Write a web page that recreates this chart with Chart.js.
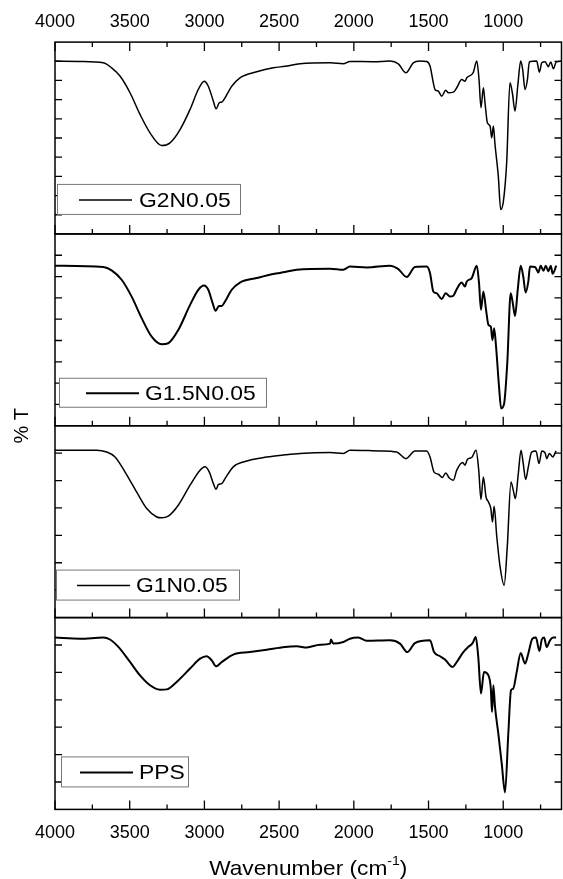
<!DOCTYPE html>
<html>
<head>
<meta charset="utf-8">
<title>FTIR spectra</title>
<script src="https://cdn.jsdelivr.net/npm/chart.js@4.4.1/dist/chart.umd.min.js"></script>
<style>
    html, body { margin: 0; padding: 0; background: #fff; }
    #wrap { width: 563px; height: 879px; }
</style>
</head>
<body>
<div id="wrap"><canvas id="ftirChart" width="563" height="879"></canvas></div>
<script>
// ticks shown on the top and bottom wavenumber axes
const xTickLabels = [4000, 3500, 3000, 2500, 2000, 1500, 1000];

const sampleNames = ['G2N0.05', 'G1.5N0.05', 'G1N0.05', 'PPS'];

// G2N0.05
const wnG2 = [4000, 3833, 3677, 3621, 3565, 3498, 3431, 3364, 3286, 3230, 3163, 3096, 3041, 3001, 2974, 2940, 2922, 2900, 2884, 2869, 2817, 2762, 2650, 2539, 2460, 2360, 2159, 2070, 2026, 1870, 1758, 1702, 1651, 1602, 1557, 1512, 1490, 1468, 1457, 1434, 1412, 1385, 1367, 1334, 1311, 1278, 1256, 1244, 1211, 1200, 1177, 1162, 1149, 1133, 1122, 1106, 1088, 1077, 1066, 1055, 1033, 1017, 999, 977, 955, 939, 921, 903, 883, 870, 854, 838, 825, 776, 758, 742, 720, 698, 682, 664, 646, 610];
const tG2 = [90.1, 89.9, 89.2, 86.6, 82.3, 73.6, 62.3, 52.7, 46.1, 47.5, 54.4, 64.9, 75.3, 79.6, 77.0, 69.2, 65.2, 68.4, 68.7, 70.1, 77.0, 81.4, 84.5, 86.6, 87.4, 88.7, 89.2, 88.7, 89.9, 89.8, 90.1, 88.7, 84.0, 89.2, 90.1, 89.9, 87.5, 78.8, 75.3, 74.4, 71.8, 74.9, 73.6, 73.9, 76.2, 80.5, 79.6, 81.4, 83.1, 84.3, 90.1, 80.5, 65.8, 76.2, 68.4, 57.9, 56.2, 50.1, 56.2, 46.6, 30.1, 12.7, 17.0, 37.1, 78.8, 73.6, 64.0, 77.0, 90.1, 85.8, 75.3, 80.5, 89.8, 90.1, 84.3, 89.2, 89.8, 87.2, 89.6, 86.1, 89.6, 90.1];

// G1.5N0.05
const wnG15 = [4000, 3677, 3621, 3554, 3487, 3420, 3353, 3286, 3242, 3175, 3096, 3041, 3003, 2974, 2945, 2925, 2903, 2884, 2862, 2817, 2762, 2650, 2539, 2460, 2382, 2159, 2070, 2026, 1914, 1758, 1702, 1646, 1591, 1512, 1490, 1468, 1446, 1412, 1385, 1356, 1334, 1311, 1278, 1256, 1244, 1211, 1177, 1162, 1149, 1133, 1115, 1099, 1083, 1072, 1061, 1048, 1028, 1014, 994, 973, 950, 936, 921, 903, 883, 866, 850, 832, 821, 787, 765, 749, 731, 715, 698, 682, 669, 645];
const tG15 = [75.1, 74.5, 72.9, 68.5, 60.6, 50.5, 41.8, 38.2, 38.7, 44.9, 56.7, 63.8, 65.8, 63.8, 57.5, 53.9, 56.2, 56.2, 58.3, 63.8, 67.2, 69.3, 71.2, 72.1, 73.2, 73.7, 73.2, 74.7, 74.3, 75.1, 73.5, 69.8, 74.5, 74.7, 71.6, 63.0, 62.2, 59.5, 62.2, 60.6, 61.0, 64.1, 67.2, 65.3, 67.7, 69.3, 75.1, 66.9, 54.4, 63.0, 54.4, 47.3, 46.5, 40.2, 45.7, 37.1, 18.2, 8.1, 10.4, 29.3, 62.2, 57.5, 51.5, 63.8, 75.1, 70.0, 62.5, 67.7, 74.7, 74.5, 71.9, 75.1, 72.7, 75.1, 72.4, 75.1, 71.3, 75.1];

// G1N0.05
const wnG1 = [4000, 3721, 3654, 3598, 3531, 3453, 3386, 3319, 3286, 3242, 3175, 3096, 3029, 2996, 2967, 2940, 2922, 2907, 2884, 2862, 2807, 2740, 2583, 2460, 2360, 2159, 2070, 2026, 1825, 1713, 1651, 1591, 1512, 1490, 1463, 1434, 1408, 1385, 1361, 1334, 1311, 1271, 1256, 1240, 1211, 1182, 1164, 1149, 1133, 1115, 1099, 1083, 1072, 1061, 1043, 1021, 994, 973, 948, 933, 919, 899, 881, 866, 850, 832, 810, 781, 760, 742, 720, 709, 691, 669, 646];
const tG1 = [61.1, 61.1, 60.4, 58.6, 53.1, 45.8, 39.8, 36.7, 36.4, 37.0, 41.0, 48.3, 53.8, 55.0, 53.1, 48.9, 46.8, 48.5, 48.9, 50.7, 55.0, 56.8, 58.6, 59.4, 59.9, 60.2, 59.9, 61.1, 60.8, 60.4, 58.0, 60.8, 60.8, 58.6, 53.1, 52.3, 51.1, 52.8, 50.9, 50.1, 53.8, 56.6, 55.6, 57.7, 58.4, 61.1, 53.8, 43.1, 51.3, 44.0, 42.2, 39.8, 34.9, 40.6, 29.4, 18.5, 11.8, 25.8, 49.5, 46.5, 43.4, 52.6, 61.1, 56.2, 50.4, 55.0, 60.4, 60.8, 56.2, 60.8, 60.1, 58.0, 59.9, 58.6, 60.8];

// PPS
const wnPPS = [4000, 3833, 3677, 3632, 3576, 3498, 3431, 3364, 3297, 3252, 3186, 3096, 3029, 2985, 2951, 2922, 2896, 2873, 2807, 2695, 2583, 2460, 2382, 2315, 2226, 2159, 2153, 2137, 2070, 2026, 1970, 1914, 1758, 1691, 1642, 1591, 1490, 1463, 1423, 1390, 1338, 1311, 1267, 1234, 1205, 1184, 1167, 1149, 1129, 1099, 1083, 1075, 1066, 1055, 1033, 1010, 988, 966, 948, 933, 910, 883, 854, 832, 805, 781, 758, 742, 727, 709, 687, 665, 646];
const tPPS = [62.7, 62.3, 62.7, 62.0, 59.3, 53.8, 48.9, 45.3, 43.7, 43.8, 46.5, 51.4, 55.0, 55.9, 54.4, 52.2, 53.2, 54.2, 56.5, 57.4, 58.3, 59.3, 59.5, 59.1, 60.1, 60.5, 62.0, 60.5, 61.1, 62.3, 62.7, 61.5, 61.7, 60.5, 57.4, 60.7, 61.7, 57.4, 55.9, 54.7, 52.0, 53.8, 57.4, 59.3, 60.7, 62.9, 55.6, 42.3, 50.1, 48.9, 44.1, 35.5, 45.3, 37.4, 27.7, 16.7, 6.2, 27.7, 43.5, 44.1, 50.1, 57.1, 53.2, 56.9, 62.3, 62.7, 57.8, 62.0, 62.7, 59.3, 61.7, 62.7, 62.7];

// %T range of each stacked panel (top to bottom)
const panelMax = [100, 90, 70, 70];

const FONT = '"Liberation Sans", Arial, Helvetica, sans-serif';
Chart.defaults.font.family = FONT;
Chart.defaults.color = '#000';

const panelIds = ['y1', 'y2', 'y3', 'y4'];
const seriesX = [wnG2, wnG15, wnG1, wnPPS];
const seriesY = [tG2, tG15, tG1, tPPS];
const lineWidths = [1.5, 2, 1.5, 2];

const datasets = sampleNames.map((name, i) => ({
    label: name,
    data: seriesX[i].map((wn, k) => ({ x: wn, y: seriesY[i][k] })),
    xAxisID: 'x',
    yAxisID: panelIds[i],
    borderColor: '#000',
    borderWidth: lineWidths[i],
    pointRadius: 0,
    fill: false,
    cubicInterpolationMode: 'monotone'
}));

// legend boxes: left offset from frame, gap above panel bottom, width
const legendBoxes = [
    { dx: 2, gap: 20, w: 183, h: 30, lineX: 22, textX: 82 },
    { dx: 4, gap: 19, w: 207, h: 29, lineX: 27, textX: 86 },
    { dx: 1, gap: 18, w: 183, h: 30, lineX: 21, textX: 80 },
    { dx: 6, gap: 23, w: 127, h: 30, lineX: 19, textX: 78 }
];

const panelFrames = {
    id: 'panelFrames',
    afterDatasetsDraw(chart) {
        const ctx = chart.ctx;
        const area = chart.chartArea;
        const xs = chart.scales.x;
        ctx.save();
        ctx.strokeStyle = '#000';

        panelIds.forEach((id, i) => {
            const ys = chart.scales[id];
            const top = ys.top;
            const bottom = ys.bottom;

            ctx.lineWidth = 1.3;
            ctx.beginPath();
            // y ticks, inward on both sides
            for (let v = 10; v < panelMax[i]; v += 10) {
                const py = ys.getPixelForValue(v);
                ctx.moveTo(area.left, py);
                ctx.lineTo(area.left + 7, py);
                ctx.moveTo(area.right, py);
                ctx.lineTo(area.right - 7, py);
            }
            // x ticks at the panel bottom (and on top of the first panel)
            for (let v = 4000; v > xs.min; v -= 250) {
                const px = xs.getPixelForValue(v);
                const len = v % 500 === 0 ? 9 : 5;
                ctx.moveTo(px, bottom);
                ctx.lineTo(px, bottom - len);
                if (i === 0) {
                    ctx.moveTo(px, top);
                    ctx.lineTo(px, top + len);
                }
            }
            ctx.stroke();

            ctx.lineWidth = 1.5;
            ctx.strokeRect(area.left, top, area.right - area.left, bottom - top);

            // legend
            const lb = legendBoxes[i];
            const bx = area.left + lb.dx;
            const by = bottom - lb.gap - lb.h;
            ctx.fillStyle = '#fff';
            ctx.fillRect(bx, by, lb.w, lb.h);
            ctx.strokeStyle = '#777';
            ctx.lineWidth = 1;
            ctx.strokeRect(bx + 0.5, by + 0.5, lb.w, lb.h);
            ctx.strokeStyle = '#000';
            const cy = by + lb.h / 2 + 1;
            ctx.lineWidth = lineWidths[i];
            ctx.beginPath();
            ctx.moveTo(bx + lb.lineX, cy);
            ctx.lineTo(bx + lb.lineX + 53, cy);
            ctx.stroke();

            ctx.save();
            ctx.translate(bx + lb.textX, cy);
            ctx.scale(1.09, 1);
            ctx.fillStyle = '#000';
            ctx.font = '21px ' + FONT;
            ctx.textBaseline = 'middle';
            ctx.fillText(sampleNames[i], 0, 1);
            ctx.restore();
        });
        ctx.restore();
    },
    afterDraw(chart) {
        const ctx = chart.ctx;
        const area = chart.chartArea;
        ctx.save();
        ctx.fillStyle = '#000';

        // y title
        ctx.save();
        ctx.translate(22, (area.top + area.bottom) / 2);
        ctx.rotate(-Math.PI / 2);
        ctx.font = '20px ' + FONT;
        ctx.textAlign = 'center';
        ctx.textBaseline = 'middle';
        ctx.fillText('% T', 0, 0);
        ctx.restore();

        // x title with superscript
        const main = 'Wavenumber (cm';
        const sup = '-1';
        const end = ')';
        ctx.font = '21px ' + FONT;
        const wMain = ctx.measureText(main).width;
        const wEnd = ctx.measureText(end).width;
        ctx.font = '13px ' + FONT;
        const wSup = ctx.measureText(sup).width;
        const sx = 1.08;
        const total = (wMain + wSup + wEnd) * sx;
        ctx.translate((area.left + area.right) / 2 - total / 2, 869);
        ctx.scale(sx, 1);
        ctx.textBaseline = 'middle';
        ctx.font = '21px ' + FONT;
        ctx.fillText(main, 0, 0);
        ctx.font = '13px ' + FONT;
        ctx.fillText(sup, wMain, -8);
        ctx.font = '21px ' + FONT;
        ctx.fillText(end, wMain + wSup, 0);
        ctx.restore();
    }
};

const xTickSetup = (scale) => {
    scale.ticks = xTickLabels.map(v => ({ value: v }));
};

const xAxis = (position, padding) => ({
    type: 'linear',
    position: position,
    reverse: true,
    min: 610,
    max: 4000,
    afterBuildTicks: xTickSetup,
    grid: { display: false, drawTicks: false },
    border: { display: false },
    ticks: {
        autoSkip: false,
        maxRotation: 0,
        padding: padding,
        color: '#000',
        font: { size: 18 },
        callback: (value) => String(value)
    }
});

const panelScale = (max) => ({
    type: 'linear',
    display: false,
    position: 'right',
    stack: 'panels',
    stackWeight: 1,
    min: 0,
    max: max
});

new Chart(document.getElementById('ftirChart'), {
    type: 'line',
    data: { datasets: datasets },
    options: {
        responsive: false,
        animation: false,
        devicePixelRatio: 1,
        layout: { padding: { top: 1.5, left: 55, right: 1.5, bottom: 23 } },
        plugins: {
            legend: { display: false },
            tooltip: { enabled: false }
        },
        scales: {
            x: xAxis('bottom', 12.5),
            x2: xAxis('top', 9.5),
            y1: panelScale(panelMax[0]),
            y2: panelScale(panelMax[1]),
            y3: panelScale(panelMax[2]),
            y4: panelScale(panelMax[3])
        }
    },
    plugins: [panelFrames]
});
</script>
</body>
</html>
